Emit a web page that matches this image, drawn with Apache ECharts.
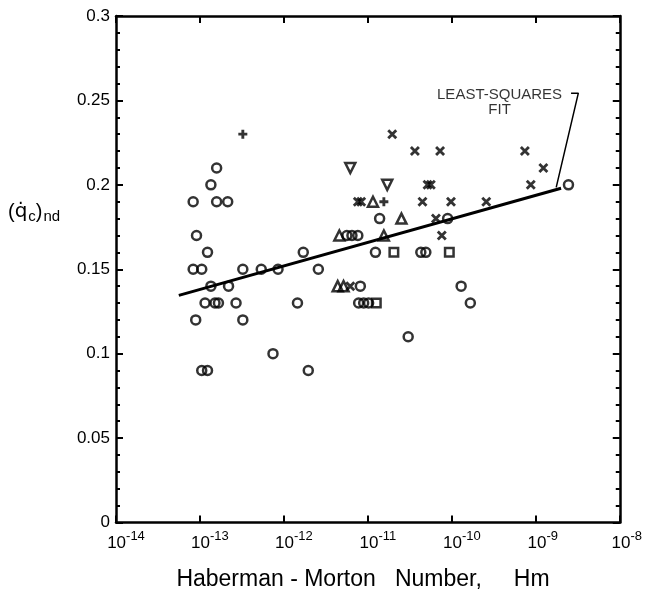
<!DOCTYPE html>
<html><head><meta charset="utf-8">
<script src="https://cdn.jsdelivr.net/npm/echarts@6/dist/echarts.min.js"></script>
<style>html,body{margin:0;padding:0;background:#fff}#c{width:645px;height:595px}</style>
</head><body><div id="c"></div>
<script>
// ---- data (Hm values, (q_c)nd values) ----
const circleHm = [1.58e-13, 1.35e-13, 2.45e-9, 8.3e-14, 1.58e-13, 2.14e-13, 1.38e-11, 8.91e-11,
  9.1e-14, 5.62e-12, 6.46e-12, 7.59e-12, 1.23e-13, 1.70e-12, 1.23e-11, 4.27e-11, 4.90e-11,
  8.3e-14, 1.05e-13, 3.24e-13, 5.37e-13, 8.51e-13, 2.57e-12, 1.35e-13, 2.19e-13, 8.13e-12, 1.29e-10,
  1.15e-13, 1.51e-13, 1.66e-13, 2.69e-13, 1.45e-12, 7.76e-12, 8.91e-12, 1.02e-11, 1.66e-10,
  8.9e-14, 3.24e-13, 3.02e-11, 7.41e-13, 1.05e-13, 1.23e-13, 1.95e-12];
const circleQ = [0.21, 0.20, 0.20, 0.19, 0.19, 0.19, 0.18, 0.18,
  0.17, 0.17, 0.17, 0.17, 0.16, 0.16, 0.16, 0.16, 0.16,
  0.15, 0.15, 0.15, 0.15, 0.15, 0.15, 0.14, 0.14, 0.14, 0.14,
  0.13, 0.13, 0.13, 0.13, 0.13, 0.13, 0.13, 0.13, 0.13,
  0.12, 0.12, 0.11, 0.10, 0.09, 0.09, 0.09];
const triUpHm = [1.15e-11, 2.51e-11, 4.57e-12, 1.55e-11, 4.37e-12, 5.13e-12];
const triUpQ = [0.19, 0.18, 0.17, 0.17, 0.14, 0.14];
const triDownHm = [6.17e-12, 1.70e-11];
const triDownQ = [0.21, 0.20];
const plusHm = [3.24e-13, 1.55e-11];
const plusQ = [0.23, 0.19];
const squareHm = [2.04e-11, 9.33e-11, 1.26e-11];
const squareQ = [0.16, 0.16, 0.13];
const crossHm = [1.95e-11, 3.63e-11, 7.24e-11, 7.41e-10, 1.23e-9, 5.13e-11, 5.62e-11, 8.71e-10,
  7.59e-12, 8.32e-12, 4.47e-11, 9.77e-11, 2.57e-10, 6.46e-11, 7.59e-11, 6.17e-12];
const crossQ = [0.23, 0.22, 0.22, 0.22, 0.21, 0.20, 0.20, 0.20,
  0.19, 0.19, 0.19, 0.19, 0.19, 0.18, 0.17, 0.14];
const fitHm = [5.6e-14, 2.0e-9];
const fitQ = [0.1345, 0.198];
const leaderHm = [2.63e-9, 3.21e-9, 1.75e-9];
const leaderQ = [0.2543, 0.2543, 0.1985];
const noteHm = [3.7e-10];
const noteQ = [0.2488];
const noteText = 'LEAST-SQUARES\nFIT';
const yTicks = [0, 0.05, 0.1, 0.15, 0.2, 0.25, 0.3];
const xTickExponents = [-14, -13, -12, -11, -10, -9, -8];

const zip = (a, b) => a.map((v, i) => [v, b[i]]);
const FONT = '"Liberation Sans", Arial, Helvetica, sans-serif';

const openStyle = {color: 'rgba(255,255,255,0)', borderColor: '#000', borderWidth: 2.5};
const CROSS = 'path://M0,2L2,0L10,8L8,10Z M8,0L10,2L2,10L0,8Z';
const PLUS = 'path://M3.4,0H6.6V3.4H10V6.6H6.6V10H3.4V6.6H0V3.4H3.4Z';
const TRIDOWN = 'path://M0,0L10,0L5,9Z';

const supLabel = (v) => {
  const e = Math.round(Math.log10(v));
  const s = String(e);
  return '{p' + s.length + '|}{b|10}{s|' + s + '}';
};
const xLabelRich = {
  b: {fontSize: 17, fontFamily: FONT, color: '#000', padding: [8, 0, 0, 0]},
  s: {fontSize: 13, fontFamily: FONT, color: '#000', padding: [0, 0, 6, 0]},
  p2: {width: 14}, p3: {width: 20}
};

const baseX = {
  type: 'log', logBase: 10, min: 1e-14, max: 1e-8,
  axisLine: {show: true, onZero: false, lineStyle: {color: '#000', width: 2.5}},
  axisTick: {show: true, inside: true, length: 7, lineStyle: {color: '#000', width: 2}},
  minorTick: {show: false},
  splitLine: {show: false}, minorSplitLine: {show: false}
};
const baseY = {
  type: 'value', min: 0, max: 0.3, interval: 0.05,
  axisLine: {show: true, onZero: false, lineStyle: {color: '#000', width: 2.5}},
  axisTick: {show: true, inside: true, length: 7, lineStyle: {color: '#000', width: 2}},
  minorTick: {show: true, splitNumber: 5, length: 4, lineStyle: {color: '#000', width: 2}},
  splitLine: {show: false}
};

const chart = echarts.init(document.getElementById('c'), null, {renderer: 'canvas'});
chart.setOption({
  animation: false,
  backgroundColor: '#fff',
  grid: {left: 116, right: 19, top: 16, bottom: 72.5, containLabel: false},
  xAxis: [
    Object.assign({}, baseX, {position: 'bottom',
      axisLabel: {show: true, margin: 4, formatter: supLabel, rich: xLabelRich}}),
    Object.assign({}, baseX, {position: 'top', axisLabel: {show: false}})
  ],
  yAxis: [
    Object.assign({}, baseY, {position: 'left',
      axisLabel: {show: true, margin: 6, fontSize: 17, fontFamily: FONT, color: '#000',
        formatter: (v) => String(+v.toFixed(2))}}),
    Object.assign({}, baseY, {position: 'right', axisLabel: {show: false}})
  ],
  graphic: [
    {type: 'text', left: 8, top: 202, silent: true,
      style: {text: '{a|(}{q|q\u0307}{c|c}{a|)}{n|nd}', rich: {
        a: {fontSize: 20, fontFamily: FONT, fill: '#000'},
        q: {fontSize: 20, fontFamily: '"DejaVu Sans", ' + FONT, fill: '#000'},
        c: {fontSize: 15, fontFamily: FONT, fill: '#000', padding: [9, 0, 0, 1]},
        n: {fontSize: 15, fontFamily: FONT, fill: '#000', padding: [10, 0, 0, 1]}
      }}},
    {type: 'text', x: 363, y: 580, silent: true,
      style: {text: 'Haberman - Morton   Number,     Hm', font: '23px ' + FONT, fill: '#000',
        align: 'center', verticalAlign: 'middle'}}
  ],
  series: [
    {type: 'line', data: zip(fitHm, fitQ), symbol: 'none', silent: true,
      lineStyle: {color: '#000', width: 3}, z: 1},
    {type: 'line', data: zip(leaderHm, leaderQ), symbol: 'none', silent: true,
      lineStyle: {color: '#000', width: 1.5}, z: 1},
    {type: 'scatter', data: zip(circleHm, circleQ), symbol: 'circle', symbolSize: 9, itemStyle: openStyle, silent: true, z: 3},
    {type: 'scatter', data: zip(triUpHm, triUpQ), symbol: 'triangle', symbolSize: 10, itemStyle: openStyle, silent: true, z: 3},
    {type: 'scatter', data: zip(triDownHm, triDownQ), symbol: TRIDOWN, symbolSize: 10, itemStyle: openStyle, silent: true, z: 3},
    {type: 'scatter', data: zip(squareHm, squareQ), symbol: 'rect', symbolSize: 8.5, itemStyle: openStyle, silent: true, z: 3},
    {type: 'scatter', data: zip(crossHm, crossQ), symbol: CROSS, symbolSize: 10, itemStyle: {color: '#000'}, silent: true, z: 3},
    {type: 'scatter', data: zip(plusHm, plusQ), symbol: PLUS, symbolSize: 9, itemStyle: {color: '#000'}, silent: true, z: 3},
    {type: 'scatter', data: zip(noteHm, noteQ), symbolSize: 1, itemStyle: {color: 'rgba(0,0,0,0)'}, silent: true,
      label: {show: true, position: 'inside', formatter: noteText, fontSize: 15, lineHeight: 15,
        fontFamily: FONT, color: '#000', align: 'center'}}
  ]
});
</script></body></html>
